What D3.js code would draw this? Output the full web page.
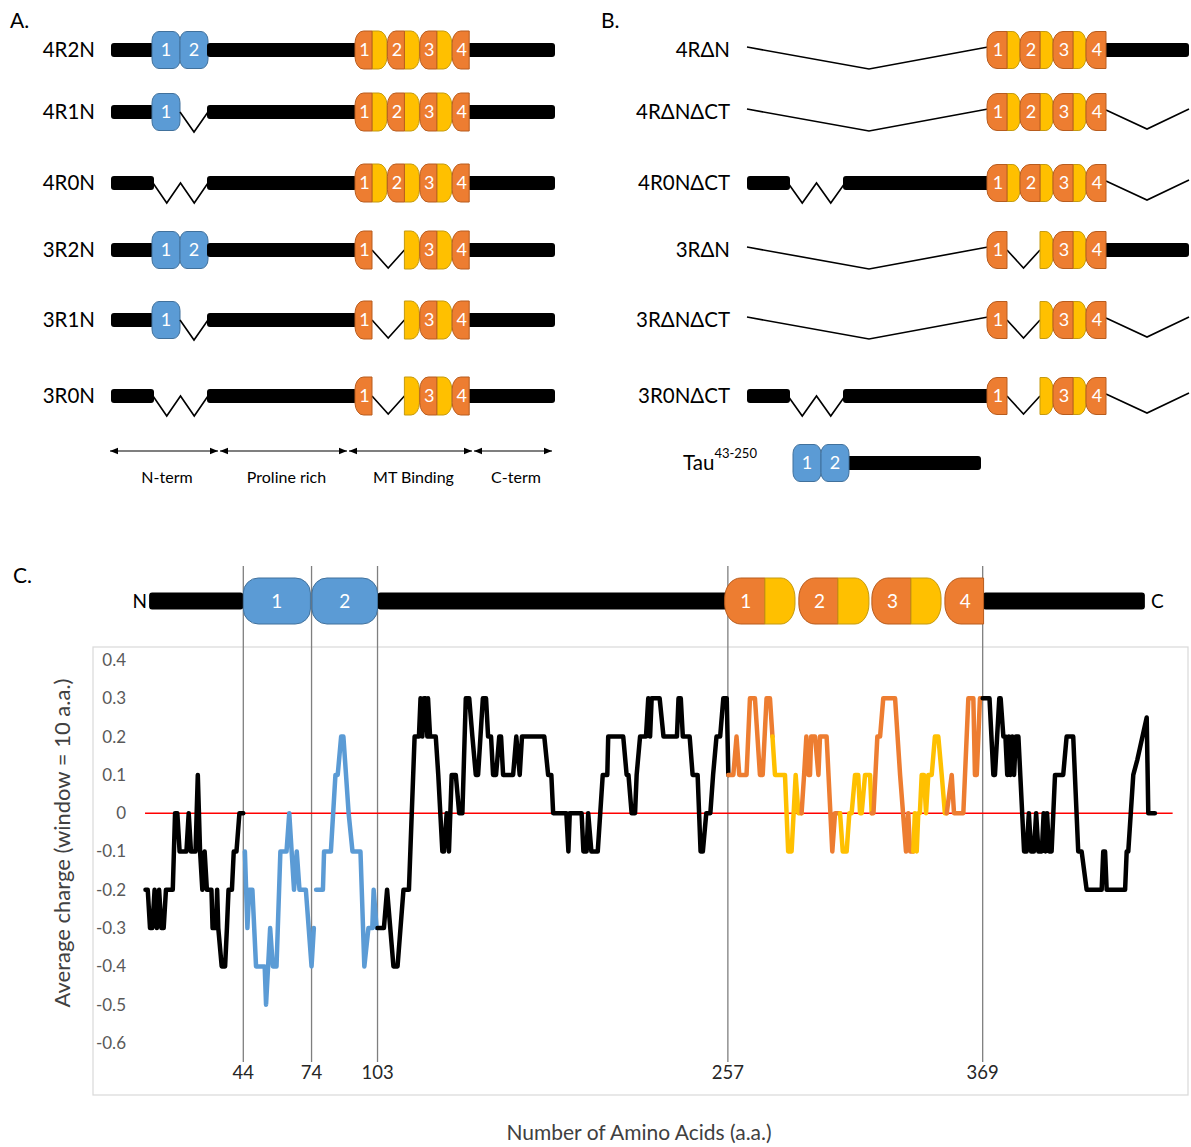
<!DOCTYPE html>
<html>
<head>
<meta charset="utf-8">
<title>Tau isoforms and charge profile</title>
<script src="https://d3js.org/d3.v7.min.js"></script>
<style>
  body { margin: 0; background: #fff; }
  svg { display: block; font-family: Lato, "Noto Sans", sans-serif; }
</style>
</head>
<body>
<svg id="fig" width="1191" height="1147"></svg>
<script>
// ---------- data ----------
// panel A: isoforms
const isoformsA = ["4R2N", "4R1N", "4R0N", "3R2N", "3R1N", "3R0N"];
const nInsertsA = [2, 1, 0, 2, 1, 0];
const mtRepeatsA = [4, 4, 4, 3, 3, 3];
const regionNames = ["N-term", "Proline rich", "MT Binding", "C-term"];

// panel B: truncated constructs
const constructsB = ["4RΔN", "4RΔNΔCT", "4R0NΔCT", "3RΔN", "3RΔNΔCT", "3R0NΔCT"];
const nTermB = ["ΔN", "ΔN", "0N", "ΔN", "ΔN", "0N"];
const mtRepeatsB = [4, 4, 4, 3, 3, 3];
const cTermB = ["full", "ΔCT", "ΔCT", "full", "ΔCT", "ΔCT"];

// panel C: charge profile, [amino acid, average charge]
const boundaries = [44, 74, 103, 257, 369];
const yTicks = [0.4, 0.3, 0.2, 0.1, 0, -0.1, -0.2, -0.3, -0.4, -0.5, -0.6];

const chargeNterm = [[1,-0.2],[2,-0.2],[3,-0.3],[4,-0.3],[5,-0.2],[6,-0.3],[7,-0.2],[8,-0.3],[9,-0.3],[10,-0.2],[13,-0.2],[14,0],[15,0],[16,-0.1],[19,-0.1],[20,0],[21,-0.1],[23,-0.1],[24,0.1],[25,-0.1],[26,-0.2],[27,-0.1],[28,-0.2],[30,-0.2],[30.5,-0.3],[32,-0.3],[32.5,-0.2],[33,-0.3],[34.5,-0.4],[36,-0.4],[36.8,-0.3],[37.5,-0.2],[39,-0.2],[39.8,-0.1],[41,-0.1],[42.3,0],[44,0]];
const chargeN1 = [[44.7,-0.1],[45.8,-0.3],[46.6,-0.2],[48,-0.2],[49.6,-0.4],[53.4,-0.4],[54,-0.5],[55.8,-0.3],[57,-0.4],[58.6,-0.4],[60.3,-0.1],[63,-0.1],[64.2,0],[66.3,-0.2],[67.5,-0.1],[68.7,-0.2],[71.5,-0.2],[74,-0.4],[75,-0.3]];
const chargeN2 = [[76,-0.2],[79,-0.2],[79.5,-0.1],[82.5,-0.1],[84.5,0.1],[85.5,0.1],[87,0.2],[88,0.2],[90.3,0],[92,-0.1],[95.5,-0.1],[97.2,-0.4],[99,-0.3],[100.7,-0.3],[101.3,-0.2],[102.6,-0.3]];
const chargeProline = [[103,-0.3],[105.8,-0.3],[107.2,-0.2],[110,-0.4],[111.8,-0.4],[114.4,-0.2],[116.8,-0.2],[119.3,0.2],[121.2,0.2],[121.9,0.3],[122.7,0.2],[123.4,0.3],[124.1,0.3],[124.9,0.2],[125.2,0.3],[126.1,0.2],[128.6,0.2],[129.7,0.1],[131.5,-0.1],[132.2,-0.1],[133.4,0],[134.4,-0.1],[135.6,0.1],[137.4,0.1],[138.9,0],[140.3,0],[141.8,0.3],[143.3,0.3],[144.7,0.2],[146.2,0.1],[147.2,0.1],[149.3,0.3],[150.7,0.3],[151.6,0.2],[152.9,0.2],[153.8,0.1],[155.1,0.1],[156.5,0.2],[157.3,0.2],[158.2,0.1],[162.6,0.1],[164,0.2],[165.5,0.1],[166.5,0.2],[176.3,0.2],[178,0.1],[179.4,0.1],[180.2,0],[186,0],[186.9,-0.1],[187.5,0],[192.7,0],[193.5,-0.1],[194.9,-0.1],[195.6,0],[197,-0.1],[199.8,-0.1],[200.9,0],[202,0.1],[204,0.1],[204.4,0.2],[211,0.2],[212.5,0.1],[213.3,0.1],[214.7,0],[216.2,0],[216.9,0.1],[218.4,0.2],[221,0.2],[222,0.3],[222.8,0.2],[223.5,0.3],[227,0.3],[228.7,0.2],[234.6,0.2],[235.3,0.3],[236.3,0.3],[237.2,0.2],[240.2,0.2],[241.5,0.1],[243.7,0.1],[245,-0.1],[246,-0.1],[247.5,0],[249.3,0],[250.5,0.1],[252,0.2],[253.6,0.2],[255,0.3],[256.5,0.3],[257.2,0.1]];
const chargeR1a = [[257.2,0.1],[259.4,0.1],[260.8,0.2],[262,0.1],[265.2,0.1],[266.7,0.3],[268.9,0.3],[271.1,0.1],[272.3,0.1],[274,0.3],[275.5,0.3],[276.6,0.2]];
const chargeR1b = [[276.6,0.2],[277.7,0.1],[282.1,0.1],[283.5,-0.1],[285,-0.1],[286.8,0.1],[288,0],[289.4,0]];
const chargeR2a = [[289.4,0],[290.5,0.1],[291.5,0.2],[292.4,0.1],[293.1,0.1],[293.6,0.2],[295.3,0.2],[296.8,0.1],[297.5,0.2],[300.4,0.2],[302.9,-0.1],[304.1,0],[306.3,0]];
const chargeR2b = [[306.3,0],[307.5,-0.1],[309.2,-0.1],[310.4,0],[311.4,0],[312.9,0.1],[314.3,0.1],[315.1,0],[315.8,0],[317.3,0.1],[319.5,0.1],[320.2,0]];
const chargeR3a = [[320.2,0],[321,0],[322.7,0.2],[323.9,0.2],[325.3,0.3],[330.5,0.3],[332.7,0.1],[335.3,-0.1],[336.3,0],[337.1,-0.1],[338.5,-0.1]];
const chargeR3b = [[338.5,-0.1],[339.2,0],[340,-0.1],[340.7,0],[341.4,0],[342.2,0.1],[343.2,0.1],[344.1,0],[345.1,0.1],[346.6,0.1],[348,0.2],[349.5,0.2],[351,0.1],[352.4,0],[353.2,0]];
const chargeR4 = [[353.2,0],[355.4,0.1],[356.4,0],[360.5,0],[362.7,0.3],[364.9,0.3],[365.6,0.1],[366.4,0.1],[367.8,0.3],[369,0.3]];
const chargeCterm = [[369,0.3],[372,0.3],[373.7,0.1],[374.4,0.1],[376.3,0.3],[376.9,0.3],[378.1,0.2],[379,0.2],[379.8,0.1],[380.5,0.2],[381.2,0.1],[382,0.2],[382.8,0.1],[383.6,0.2],[384.7,0.2],[387.2,-0.1],[388.3,-0.1],[389.3,0],[390.3,-0.1],[391.5,-0.1],[392.5,0],[393.5,-0.1],[395,-0.1],[395.8,0],[396.6,-0.1],[397.3,0],[398.2,-0.1],[399.3,-0.1],[400.8,0.1],[404.4,0.1],[405.9,0.2],[408.8,0.2],[411,-0.1],[412.5,-0.1],[414.7,-0.2],[421.3,-0.2],[422,-0.1],[422.8,-0.1],[423.5,-0.2],[431.6,-0.2],[432.3,-0.1],[433,-0.1],[435.2,0.1],[437,0.14],[441.1,0.25],[441.8,0],[444.7,0]];

// domain map above the profile, in amino acids
const barSegmentsC = [[2.6, 44], [103, 257], [369, 440.3]];
const nDomainsC = [[44, 73.5], [74.2, 103]];
const repeatPartsC = [[255.6, 273.3, "o", "1"], [273.3, 286.5, "y"], [288.2, 305.4, "o", "2"], [305.4, 319, "y"],
                      [320.3, 337.5, "o", "3"], [337.5, 350.7, "y"], [352.4, 369.4, "o", "4"]];
const zeroLineExtent = [0.8, 452.5];

// ---------- helpers ----------
const BLUE = "#5b9bd5", BLUE_EDGE = "#41719c";
const ORANGE = "#ed7d31", ORANGE_EDGE = "#b85c1e";
const YELLOW = "#ffc000", YELLOW_EDGE = "#c49a10";

const svg = d3.select("#fig");

// box with optional elliptical rounding on left (rl) and right (rr) side
function capsule(x0, x1, yc, h, rl, rr, ry) {
  const y0 = yc - h / 2, y1 = yc + h / 2;
  let s = `M${x0 + rl},${y0} L${x1 - rr},${y0}`;
  if (rr) s += ` A${rr},${ry} 0 0 1 ${x1},${y0 + ry} L${x1},${y1 - ry} A${rr},${ry} 0 0 1 ${x1 - rr},${y1}`;
  else s += ` L${x1},${y1}`;
  s += ` L${x0 + rl},${y1}`;
  if (rl) s += ` A${rl},${ry} 0 0 1 ${x0},${y1 - ry} L${x0},${y0 + ry} A${rl},${ry} 0 0 1 ${x0 + rl},${y0}`;
  else s += ` L${x0},${y0}`;
  return s + "Z";
}

function bar(g, x0, x1, yc, h = 14) {
  g.append("rect").attr("x", x0).attr("y", yc - h / 2)
    .attr("width", x1 - x0).attr("height", h).attr("rx", 3).attr("fill", "#000");
}

function polyline(g, pts) {
  g.append("path").attr("d", d3.line()(pts))
    .attr("fill", "none").attr("stroke", "#000").attr("stroke-width", 1.6);
}

function zigzag(g, x0, x1, yc, n, depth = 20) {
  const w = (x1 - x0) / n;
  const pts = [[x0, yc]];
  for (let k = 0; k < n; k++) pts.push([x0 + w * (k + 0.5), yc + depth], [x0 + w * (k + 1), yc]);
  polyline(g, pts);
}

function number(g, x, yc, label, size = 18) {
  g.append("text").attr("x", x).attr("y", yc).attr("dy", "0.36em")
    .attr("text-anchor", "middle").attr("fill", "#fff").attr("font-size", size).text(label);
}

function nDomain(g, x0, x1, yc, label, h = 37) {
  g.append("path").attr("d", capsule(x0, x1, yc, h, 7, 7, 9))
    .attr("fill", BLUE).attr("stroke", BLUE_EDGE).attr("stroke-width", 1);
  number(g, (x0 + x1) / 2, yc, label);
}

function repeats(g, x0, yc, n, grid) {
  const { unit, wo, wy, h } = grid;
  const ox = k => x0 + k * unit;
  const drawY = k => g.append("path")
    .attr("d", capsule(ox(k) + wo, ox(k) + wo + wy, yc, h, 0, wy * 0.55, h * 0.32))
    .attr("fill", YELLOW).attr("stroke", YELLOW_EDGE).attr("stroke-width", 1);
  const drawO = k => {
    g.append("path").attr("d", capsule(ox(k), ox(k) + wo, yc, h, wo * 0.5, 0, h * 0.32))
      .attr("fill", ORANGE).attr("stroke", ORANGE_EDGE).attr("stroke-width", 1);
    number(g, ox(k) + wo / 2 + 1, yc, String(k + 1));
  };
  if (n === 4) {
    [0, 1, 2].forEach(drawY);
    [0, 1, 2, 3].forEach(drawO);
  } else {
    zigzag(g, ox(0) + wo, ox(1) + wo, yc, 1, 18);
    [1, 2].forEach(drawY);
    [0, 2, 3].forEach(drawO);
  }
}

function panelLabel(x, y, t) {
  svg.append("text").attr("x", x).attr("y", y).attr("font-size", 21).attr("fill", "#000").text(t);
}

const rowY = [50, 112, 183, 250, 320, 396];

// ---------- panel A ----------
panelLabel(10, 28, "A.");
const gridA = { unit: 32.4, wo: 17, wy: 15, h: 38 };
const gA = svg.append("g");
isoformsA.forEach((name, i) => {
  const yc = rowY[i];
  const g = gA.append("g");
  g.append("text").attr("x", 95).attr("y", yc).attr("dy", "0.35em")
    .attr("text-anchor", "end").attr("font-size", 20.5).text(name);
  bar(g, 111, 154, yc);
  if (nInsertsA[i] === 2) { nDomain(g, 152, 180, yc, "1"); nDomain(g, 180, 208, yc, "2"); }
  else if (nInsertsA[i] === 1) { nDomain(g, 152, 180, yc, "1"); zigzag(g, 180, 208, yc, 1); }
  else zigzag(g, 153, 208, yc, 2);
  bar(g, 207, 357, yc);
  bar(g, 467, 555, yc);
  repeats(g, 355, yc, mtRepeatsA[i], gridA);
});

// region arrows
svg.append("defs").append("marker")
  .attr("id", "arrow").attr("viewBox", "0 0 10 10").attr("refX", 10).attr("refY", 5)
  .attr("markerWidth", 8).attr("markerHeight", 8).attr("markerUnits", "userSpaceOnUse")
  .attr("orient", "auto-start-reverse")
  .append("path").attr("d", "M0,1 L10,5 L0,9 Z").attr("fill", "#000");

const regionEdges = [109, 219, 348, 473, 553];
regionNames.forEach((name, i) => {
  const x0 = regionEdges[i] + 1, x1 = regionEdges[i + 1] - 1;
  svg.append("line").attr("x1", x0).attr("x2", x1).attr("y1", 451).attr("y2", 451)
    .attr("stroke", "#000").attr("stroke-width", 1.2)
    .attr("marker-start", "url(#arrow)").attr("marker-end", "url(#arrow)");
  svg.append("text").attr("x", (x0 + x1) / 2 + 3).attr("y", 477).attr("dy", "0.35em")
    .attr("text-anchor", "middle").attr("font-size", 16).text(name);
});

// ---------- panel B ----------
panelLabel(601, 28, "B.");
const gridB = { unit: 33, wo: 20, wy: 13, h: 37 };
const gB = svg.append("g");
constructsB.forEach((name, i) => {
  const yc = rowY[i];
  const g = gB.append("g");
  g.append("text").attr("x", 730).attr("y", yc).attr("dy", "0.35em")
    .attr("text-anchor", "end").attr("font-size", 20.5).text(name);
  if (nTermB[i] === "ΔN") polyline(g, [[747, yc - 3], [869, yc + 19], [988, yc - 3]]);
  else { bar(g, 747, 790, yc); zigzag(g, 788, 845, yc, 2); bar(g, 843, 990, yc); }
  if (cTermB[i] === "full") bar(g, 1103, 1189, yc);
  else polyline(g, [[1106, yc - 2], [1147, yc + 17], [1189, yc - 3]]);
  repeats(g, 987, yc, mtRepeatsB[i], gridB);
});

// Tau 43-250
const tauY = 463;
const tauLabel = svg.append("text").attr("x", 683).attr("y", tauY).attr("dy", "0.35em").attr("font-size", 20.5);
tauLabel.append("tspan").text("Tau");
tauLabel.append("tspan").attr("font-size", 13).attr("dy", "-0.9em").text("43-250");
bar(svg, 846, 981, tauY);
nDomain(svg, 793, 821, tauY, "1");
nDomain(svg, 821, 849, tauY, "2");

// ---------- panel C ----------
panelLabel(13, 583, "C.");

const x = d3.scaleLinear().domain([0, 445]).range([143.2, 143.2 + 445 * 2.275]);
const y = d3.scaleLinear().domain([-0.6, 0.4]).range([1043, 660]);

// plot frame
svg.append("rect").attr("x", 93).attr("y", 647).attr("width", 1095).attr("height", 448)
  .attr("fill", "#fff").attr("stroke", "#d9d9d9").attr("stroke-width", 1.2);

// boundary lines
svg.append("g").selectAll("line").data(boundaries).join("line")
  .attr("x1", d => x(d)).attr("x2", d => x(d)).attr("y1", 566).attr("y2", 1062)
  .attr("stroke", "#7f7f7f").attr("stroke-width", 1.3);

// domain map
const mapY = 601;
const gMap = svg.append("g");
barSegmentsC.forEach(([a, b]) => bar(gMap, x(a), x(b), mapY, 17));
nDomainsC.forEach(([a, b], i) => {
  gMap.append("path").attr("d", capsule(x(a), x(b), mapY, 46, 15, 15, 15))
    .attr("fill", BLUE).attr("stroke", BLUE_EDGE).attr("stroke-width", 1);
  number(gMap, (x(a) + x(b)) / 2, mapY, String(i + 1), 19);
});
repeatPartsC.forEach(([a, b, kind, label]) => {
  const isO = kind === "o";
  gMap.append("path")
    .attr("d", isO ? capsule(x(a), x(b), mapY, 46, 16, 0, 20) : capsule(x(a), x(b), mapY, 46, 0, 14, 20))
    .attr("fill", isO ? ORANGE : YELLOW).attr("stroke", isO ? ORANGE_EDGE : YELLOW_EDGE).attr("stroke-width", 1);
  if (label) number(gMap, (x(a) + x(b)) / 2 + 1, mapY, label, 19);
});
svg.append("text").attr("x", x(barSegmentsC[0][0]) - 2).attr("y", mapY).attr("dy", "0.35em")
  .attr("text-anchor", "end").attr("font-size", 19).text("N");
svg.append("text").attr("x", x(barSegmentsC[2][1]) + 6).attr("y", mapY).attr("dy", "0.35em")
  .attr("font-size", 19).text("C");

// y tick labels
svg.append("g").selectAll("text").data(yTicks).join("text")
  .attr("x", 126).attr("y", d => y(d)).attr("dy", "0.35em").attr("text-anchor", "end")
  .attr("font-size", 17).attr("fill", "#595959")
  .text(d => d === 0 ? "0" : d.toFixed(1));

// x tick labels at domain boundaries
svg.append("g").selectAll("text").data(boundaries).join("text")
  .attr("x", d => x(d)).attr("y", 1073).attr("dy", "0.35em").attr("text-anchor", "middle")
  .attr("font-size", 18.5).attr("fill", "#262626").text(d => d);

// zero line
svg.append("line").attr("x1", x(zeroLineExtent[0])).attr("x2", x(zeroLineExtent[1]))
  .attr("y1", y(0)).attr("y2", y(0)).attr("stroke", "#ff0000").attr("stroke-width", 1.5);

// charge series
const series = [
  { data: chargeNterm, color: "#000" },
  { data: chargeN1, color: BLUE },
  { data: chargeN2, color: BLUE },
  { data: chargeProline, color: "#000" },
  { data: chargeR1a, color: ORANGE },
  { data: chargeR1b, color: YELLOW },
  { data: chargeR2a, color: ORANGE },
  { data: chargeR2b, color: YELLOW },
  { data: chargeR3a, color: ORANGE },
  { data: chargeR3b, color: YELLOW },
  { data: chargeR4, color: ORANGE },
  { data: chargeCterm, color: "#000" }
];
const line = d3.line().x(d => x(d[0])).y(d => y(d[1]));
svg.append("g").selectAll("path").data(series).join("path")
  .attr("d", d => line(d.data)).attr("fill", "none")
  .attr("stroke", d => d.color).attr("stroke-width", 4.5)
  .attr("stroke-linejoin", "round").attr("stroke-linecap", "round");

// axis titles
svg.append("text").attr("transform", "translate(62,843) rotate(-90)")
  .attr("text-anchor", "middle").attr("dy", "0.35em").attr("font-size", 22).attr("fill", "#404040")
  .text("Average charge (window = 10 a.a.)");
svg.append("text").attr("x", 639).attr("y", 1133).attr("dy", "0.35em")
  .attr("text-anchor", "middle").attr("font-size", 21).attr("fill", "#404040")
  .text("Number of Amino Acids (a.a.)");
</script>
</body>
</html>
